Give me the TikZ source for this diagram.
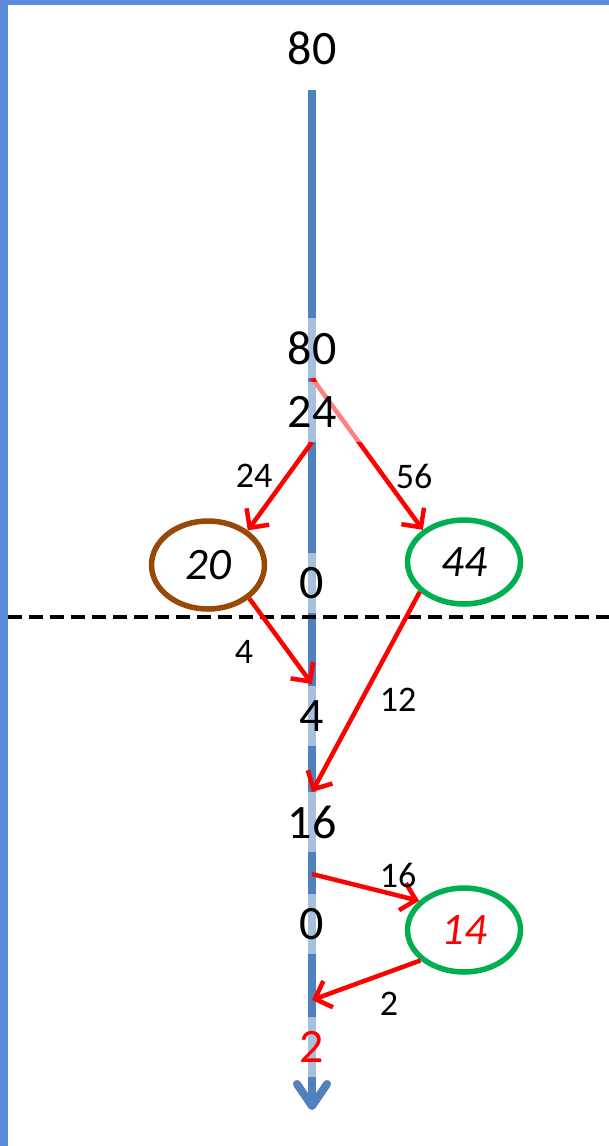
\documentclass[tikz,border=0pt]{standalone}
\usepackage{fontspec}
\setmainfont{Carlito}
\usetikzlibrary{arrows.meta,shapes.geometric}
\definecolor{axisclr}{RGB}{79,129,189}
\definecolor{frameclr}{RGB}{90,140,222}
\definecolor{flowclr}{RGB}{255,0,0}
\definecolor{brownclr}{RGB}{152,72,7}
\definecolor{greenclr}{RGB}{0,176,80}
\tikzset{
  axislbl/.style={fill=white,fill opacity=0.5,text opacity=1,inner xsep=6pt,
                  inner ysep=0pt,minimum height=60pt,font=\fontsize{48}{50}\selectfont},
  flowlbl/.style={inner sep=0pt,font=\fontsize{36}{38}\selectfont},
  stock/.style={ellipse,draw,line width=5.5pt,minimum width=113pt,minimum height=84pt,
                inner sep=0pt,font=\fontsize{45}{46}\selectfont\itshape},
  flow/.style={-{Straight Barb[length=14pt,width=28pt]},draw=flowclr,line width=4.5pt},
}

\begin{document}
\begin{tikzpicture}[x=1pt,y=-1pt]
\useasboundingbox (0,0) rectangle (609,1146);
\fill[frameclr] (0,0) rectangle (8,1146);
\fill[frameclr] (0,0) rectangle (609,5);
% time axis
\node[font=\fontsize{48}{50}\selectfont] (top80) at (312,48) {80};
\coordinate (axstart) at (312,90);
\coordinate (axend) at (312,1110);
\draw[axisclr,line width=8pt,-{Straight Barb[length=22pt,width=30pt,round]}] (axstart) -- (axend);
\draw[black,line width=4pt,dash pattern=on 14pt off 7pt] (8,617) -- (609,617);
% stocks
\node[stock,draw=brownclr,minimum height=88pt] (e20) at (208,565) {20};
\node[stock,draw=greenclr] (e44) at (464,562) {44};
\node[stock,draw=greenclr,text=flowclr] (e14) at (464,930) {14};
% flows
\coordinate (s16) at (312,874);
\coordinate (t2) at (312,1000);
\draw[flow] (312,378) -- (e44.142);
\draw[flow] (312,442) -- (e20.41);
\draw[flow] (e20.-39) -- (312,684);
\draw[flow] (e44.214) -- (312,792);
\draw[flow] (s16) -- (e14.147);
\draw[flow] (e14.215) -- (t2);
% axis labels
\node[axislbl] (a80) at (312,348) {80};
\node[axislbl,minimum width=100pt] (a24) at (312,412) {24};
\node[axislbl] (a0) at (312,583) {0};
\node[axislbl] (a4) at (312,716) {4};
\node[axislbl] (a16) at (312,822) {16};
\node[axislbl] (b0) at (312,924) {0};
\node[axislbl,text=flowclr] (a2) at (312,1047) {2};
% flow labels
\node[flowlbl] (f24) at (254,476) {24};
\node[flowlbl] (f56) at (414,476) {56};
\node[flowlbl] (f4) at (244,652) {4};
\node[flowlbl] (f12) at (398,700) {12};
\node[flowlbl] (f16) at (398,875) {16};
\node[flowlbl] (f2) at (389,1004) {2};
\end{tikzpicture}
\end{document}
